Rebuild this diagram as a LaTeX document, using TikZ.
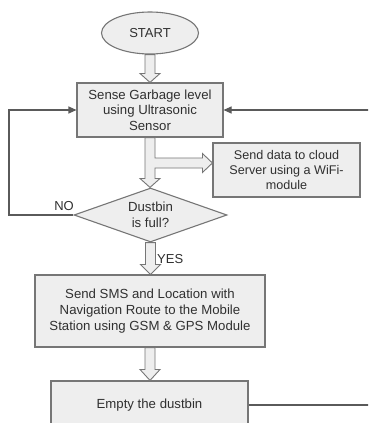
\documentclass[tikz,border=0pt]{standalone}
\usepackage{fontspec}
\setmainfont{Liberation Sans}
\usetikzlibrary{shapes.geometric,arrows.meta,calc}
\definecolor{boxfill}{HTML}{EEEEEE}
\definecolor{boxline}{HTML}{767676}
\definecolor{conline}{HTML}{5A5A5A}
\definecolor{txt}{HTML}{303030}
\tikzset{
  procbox/.style={draw=boxline,fill=boxfill,line width=1.1pt,rectangle,align=center,inner sep=0pt,text=txt,font=\fontsize{13.2}{15.6}\selectfont},
  startshape/.style={draw=boxline,fill=boxfill,line width=1.1pt,ellipse,inner sep=0pt,text=txt,font=\fontsize{13}{15}\selectfont},
  decshape/.style={draw=boxline,fill=boxfill,line width=1.1pt,diamond,aspect=2.83,inner sep=0pt,align=center,text=txt,font=\fontsize{13.2}{15.6}\selectfont},
  blockarrow/.style={draw=boxline,fill=boxfill,line width=0.9pt,line join=miter},
  conn/.style={draw=conline,line width=1.1pt,-{Triangle[length=8pt,width=7pt]}},
  lbl/.style={text=txt,font=\fontsize{13}{15}\selectfont,inner sep=0pt}
}
\begin{document}
\begin{tikzpicture}[x=1pt,y=1pt]
\clip (0,0) rectangle (368,-423);
\fill[white] (0,0) rectangle (368,-423);

\node[startshape,minimum width=97pt,minimum height=42pt] (start) at (150,-33) {START};
\node[procbox,minimum width=146pt,minimum height=54pt] (sense) at (150,-110) {Sense Garbage level\\using Ultrasonic\\Sensor};
\node[procbox,minimum width=147pt,minimum height=54pt,font=\fontsize{12.6}{15}\selectfont] (cloud) at (286.5,-170) {Send data to cloud\\Server using a WiFi-\\module};
\node[decshape,minimum width=153pt,minimum height=54pt] (dec) at (150.5,-215) {Dustbin\\is full?};
\node[procbox,minimum width=230pt,minimum height=72pt] (sms) at (150,-311) {Send SMS and Location with\\Navigation Route to the Mobile\\Station using GSM \& GPS Module};
\node[procbox,minimum width=197pt,minimum height=48pt] (empty) at (149.5,-405) {Empty the dustbin};

\node[lbl] (no) at (64,-206) {NO};
\node[lbl,anchor=west] (yes) at (157,-259) {YES};

% block arrows
\draw[blockarrow] let \p1=(start.south), \p2=(sense.north) in
  (\x1-5pt,\y1) -- (\x1-5pt,\y2+9pt) -- (\x1-10pt,\y2+9pt) -- (\x1,\y2) -- (\x1+10pt,\y2+9pt) -- (\x1+5pt,\y2+9pt) -- (\x1+5pt,\y1) -- cycle;
\draw[blockarrow] let \p1=(sense.south), \p2=(dec.north), \p3=(cloud.west) in
  (\x1-5pt,\y1) -- (\x1-5pt,\y2+9pt) -- (\x1-10pt,\y2+9pt) -- (\x1,\y2) -- (\x1+10pt,\y2+9pt) -- (\x1+5pt,\y2+9pt)
  -- (\x1+5pt,-168) -- (\x3-10pt,-168) -- (\x3-10pt,-172.5) -- (\x3,-163) -- (\x3-10pt,-153.5) -- (\x3-10pt,-158) -- (\x1+5pt,-158)
  -- (\x1+5pt,\y1) -- cycle;
\draw[blockarrow] let \p1=(dec.south), \p2=(sms.north) in
  (\x1-5pt,\y1) -- (\x1-5pt,\y2+10pt) -- (\x1-10pt,\y2+10pt) -- (\x1,\y2) -- (\x1+10pt,\y2+10pt) -- (\x1+5pt,\y2+10pt) -- (\x1+5pt,\y1) -- cycle;
\draw[blockarrow] let \p1=(sms.south), \p2=(empty.north) in
  (\x1-5pt,\y1) -- (\x1-5pt,\y2+11pt) -- (\x1-10pt,\y2+11pt) -- (\x1,\y2) -- (\x1+10pt,\y2+11pt) -- (\x1+5pt,\y2+11pt) -- (\x1+5pt,\y1) -- cycle;

% feedback connectors
\coordinate (lc) at (9,-215);
\coordinate (rc) at (372,-405);
\draw[conn] (dec.west) -- (lc) |- (sense.west);
\draw[conn] (empty.east) -- (rc) |- (sense.east);
\end{tikzpicture}
\end{document}
